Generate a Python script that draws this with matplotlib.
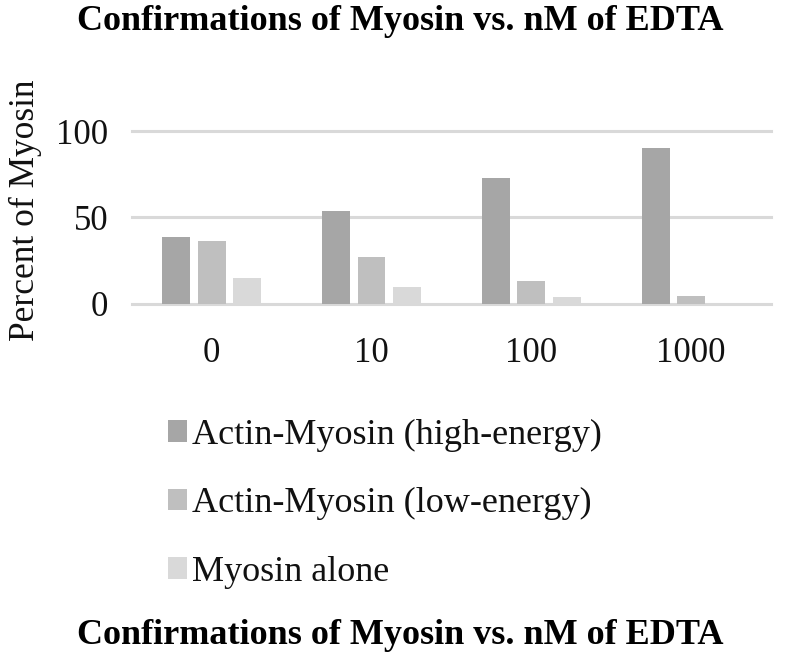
import numpy as np
import matplotlib.pyplot as plt

# data
categories = ['0', '10', '100', '1000']
series_names = ['Actin-Myosin (high-energy)', 'Actin-Myosin (low-energy)', 'Myosin alone']
high_energy = [38.5, 53.5, 73, 90]
low_energy = [36.5, 27, 13, 4.5]
myosin_alone = [14.5, 9.5, 4, 0]
y_ticks = [0, 50, 100]

colors = ['#a6a6a6', '#bfbfbf', '#d9d9d9']
title = 'Confirmations of Myosin vs. nM of EDTA'

plt.rcParams['font.family'] = ['Liberation Serif', 'DejaVu Serif']

fig = plt.figure(figsize=(7.85, 6.65), dpi=100)
ax = fig.add_axes([0.168, 0.5436, 0.814, 0.2594])

x = np.arange(len(categories))
width = 0.175
step = 0.222
handles = []
for k, (vals, c) in enumerate(zip([high_energy, low_energy, myosin_alone], colors)):
    b = ax.bar(x + (k - 1) * step, vals, width, color=c, zorder=3, label=series_names[k])
    handles.append(b)

for yv in y_ticks:
    ax.axhline(yv, color='#d9d9d9', lw=2.2, zorder=1, clip_on=False)

ax.set_xlim(-0.5, 3.5)
ax.set_ylim(0, 100)
ax.set_yticks(y_ticks)
ax.set_xticks(x)
ax.set_xticklabels(categories)
ax.tick_params(axis='both', length=0, labelsize=25, colors='#111111')
ax.tick_params(axis='x', pad=24)
ax.tick_params(axis='y', pad=17)
for s in ax.spines.values():
    s.set_visible(False)

fig.text(0.032, 0.684, 'Percent of Myosin', rotation=90, fontsize=25.5,
         ha='center', va='center', color='#111111')

fig.text(0.51, 0.968, title, fontsize=26, fontweight='bold', ha='center', va='center')
fig.text(0.51, 0.045, title, fontsize=26, fontweight='bold', ha='center', va='center')

fig.legend(handles=handles, loc='upper left', bbox_to_anchor=(0.195, 0.392),
           frameon=False, fontsize=26, handlelength=0.55, handleheight=0.55,
           handletextpad=0.12, labelspacing=0.98, borderaxespad=0, labelcolor='#111111')

fig.savefig('out.png', dpi=100)
